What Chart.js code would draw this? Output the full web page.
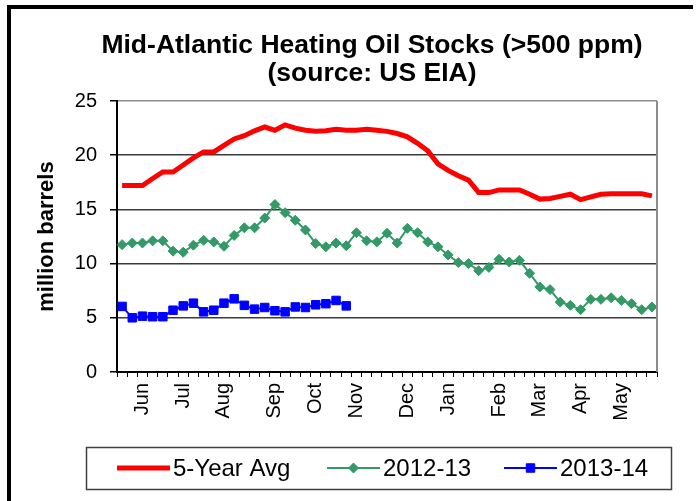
<!DOCTYPE html>
<html lang="en">
<head>
<meta charset="UTF-8" />
<script src="https://cdn.jsdelivr.net/npm/chart.js"></script>
<title>Mid-Atlantic Heating Oil Stocks</title>
<style>
  body { margin: 0; background: #fff; }
  #box { width: 698px; height: 501px; }
</style>
</head>
<body>
<div id="box"><canvas id="myChart" width="698" height="501"></canvas></div>
<script>
// weekly data, late May -> late May (53 weeks)
var monthNames = ["Jun", "Jul", "Aug", "Sep", "Oct", "Nov", "Dec", "Jan", "Feb", "Mar", "Apr", "May"];
var monthWeek = [2, 6, 10, 15, 19, 23, 28, 32, 37, 41, 45, 49];

var avg5yr = [17.2, 17.2, 17.2, 17.85, 18.45, 18.45, 19.1, 19.75, 20.3, 20.3, 20.9, 21.5, 21.8, 22.25,
  22.6, 22.3, 22.8, 22.5, 22.3, 22.2, 22.25, 22.4, 22.3, 22.3, 22.4, 22.3, 22.2, 22.0,
  21.7, 21.1, 20.4, 19.2, 18.6, 18.1, 17.7, 16.55, 16.55, 16.8, 16.8, 16.8, 16.4, 15.95,
  16.0, 16.2, 16.4, 15.9, 16.15, 16.4, 16.45, 16.45, 16.45, 16.45, 16.25];

var stocks1213 = [11.75, 11.9, 11.9, 12.1, 12.1, 11.15, 11.05, 11.7, 12.15, 12.0, 11.6, 12.6, 13.3, 13.3,
  14.2, 15.45, 14.7, 14.0, 13.1, 11.85, 11.55, 11.9, 11.65, 12.85, 12.1, 12.0, 12.8, 11.9,
  13.25, 12.85, 12.0, 11.55, 10.8, 10.1, 10.0, 9.35, 9.65, 10.4, 10.15, 10.3, 9.1, 7.85,
  7.6, 6.45, 6.15, 5.75, 6.7, 6.7, 6.85, 6.6, 6.3, 5.75, 6.0];

var stocks1314 = [6.05, 5.0, 5.15, 5.1, 5.1, 5.7, 6.1, 6.35, 5.55, 5.7, 6.35, 6.75, 6.15, 5.8,
  5.95, 5.65, 5.55, 6.0, 5.95, 6.2, 6.3, 6.6, 6.1];

var seriesNames = ["5-Year Avg", "2012-13", "2013-14"];
var titleLines = ["Mid-Atlantic Heating Oil Stocks (>500 ppm)", "(source: US EIA)"];

var labels = [];
for (var i = 0; i < avg5yr.length; i++) labels.push("");
for (var m = 0; m < monthNames.length; m++) labels[monthWeek[m]] = monthNames[m];

var FONT = "'Liberation Sans', Arial, sans-serif";

// frame, title, plot border and legend
var decor = {
  id: "decor",
  afterDraw: function (chart) {
    var ctx = chart.ctx;
    var a = chart.chartArea;
    ctx.save();

    // grey right edge of plot
    ctx.strokeStyle = "#8c8c8c";
    ctx.lineWidth = 2;
    ctx.beginPath();
    ctx.moveTo(a.right, a.top);
    ctx.lineTo(a.right, a.bottom);
    ctx.stroke();

    // outer frame (left + top)
    ctx.strokeStyle = "#000";
    ctx.lineWidth = 4;
    ctx.beginPath();
    ctx.moveTo(9, 501);
    ctx.lineTo(9, 7);
    ctx.lineTo(693, 7);
    ctx.stroke();

    // title
    ctx.fillStyle = "#000";
    ctx.font = "bold 26.5px " + FONT;
    ctx.textAlign = "center";
    ctx.textBaseline = "alphabetic";
    ctx.fillText(titleLines[0], 372, 53);
    ctx.fillText(titleLines[1], 372, 81);

    // legend
    ctx.strokeStyle = "#404040";
    ctx.lineWidth = 1.5;
    ctx.strokeRect(86.5, 447.5, 585, 42);
    var lx = [117, 327, 504];
    var ly = 468;
    ctx.font = "24px " + FONT;
    ctx.textAlign = "left";
    ctx.textBaseline = "middle";
    chart.data.datasets.forEach(function (ds, k) {
      ctx.strokeStyle = ds.borderColor;
      ctx.lineWidth = ds.borderWidth;
      ctx.beginPath();
      ctx.moveTo(lx[k], ly);
      ctx.lineTo(lx[k] + 53, ly);
      ctx.stroke();
      if (ds.pointRadius > 0) {
        ctx.fillStyle = ds.backgroundColor;
        ctx.strokeStyle = ds.borderColor;
        ctx.lineWidth = 1;
        Chart.helpers.drawPoint(ctx, {
          pointStyle: ds.pointStyle, radius: ds.pointRadius, borderWidth: 1, rotation: 0
        }, lx[k] + 26.5, ly);
      }
      ctx.fillStyle = "#000";
      ctx.fillText(ds.label, lx[k] + 56, ly + 1);
    });
    ctx.restore();
  }
};

var ctx = document.getElementById("myChart");
var chart = new Chart(ctx, {
  type: "line",
  data: {
    labels: labels,
    datasets: [
      {
        label: seriesNames[0],
        data: avg5yr,
        borderColor: "#ff0000",
        backgroundColor: "#ff0000",
        borderWidth: 5,
        pointRadius: 0,
        tension: 0
      },
      {
        label: seriesNames[1],
        data: stocks1213,
        borderColor: "#339966",
        backgroundColor: "#339966",
        borderWidth: 2,
        pointStyle: "rectRot",
        pointRadius: 5,
        pointBorderWidth: 1,
        tension: 0
      },
      {
        label: seriesNames[2],
        data: stocks1314,
        borderColor: "#0000ff",
        backgroundColor: "#0000ff",
        borderWidth: 2,
        pointStyle: "rect",
        pointRadius: 6,
        pointBorderWidth: 1,
        tension: 0
      }
    ]
  },
  options: {
    responsive: false,
    animation: false,
    devicePixelRatio: 1,
    layout: { padding: { left: 12, top: 101, right: 41, bottom: 0 } },
    plugins: {
      legend: { display: false },
      title: { display: false },
      tooltip: { enabled: false }
    },
    scales: {
      x: {
        type: "category",
        offset: true,
        afterFit: function (s) { s.height = 129; },
        grid: {
          offset: true,
          drawOnChartArea: false,
          drawTicks: true,
          tickLength: 5,
          color: "#000",
          tickColor: "#000"
        },
        border: { color: "#000", width: 2 },
        ticks: {
          autoSkip: false,
          maxRotation: 90,
          minRotation: 90,
          padding: 6,
          color: "#000",
          font: { family: FONT, size: 20 }
        }
      },
      y: {
        min: 0,
        max: 25,
        afterFit: function (s) { s.width = 105; },
        ticks: {
          stepSize: 5,
          padding: 13,
          color: "#000",
          font: { family: FONT, size: 20 }
        },
        grid: {
          tickLength: 7,
          tickColor: "#000",
          lineWidth: 1.5,
          color: function (c) { return c.tick && c.tick.value === 25 ? "#8c8c8c" : "#3a3a3a"; }
        },
        border: { color: "#000", width: 2 },
        title: {
          display: true,
          text: "million barrels",
          color: "#000",
          font: { family: FONT, size: 22, weight: "bold" },
          padding: { top: 22, bottom: 0 }
        }
      }
    }
  },
  plugins: [decor]
});
</script>
</body>
</html>
